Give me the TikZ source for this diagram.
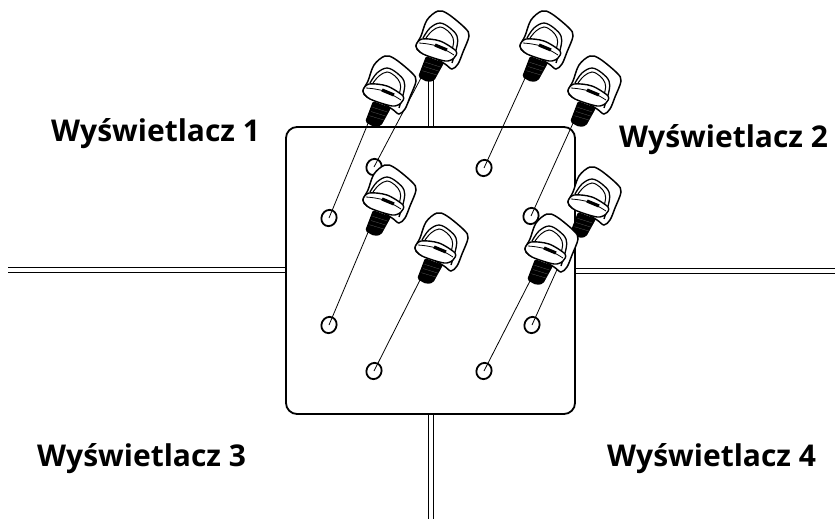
\documentclass[tikz,border=0pt]{standalone}
\usepackage{fontspec}
\setmainfont{Open Sans}
\usetikzlibrary{calc, shapes.geometric}

\tikzset{
	edge/.style = {line width = 1pt, black},
	guide/.style = {line width = 0.8pt, black},
	hole/.style = {line width = 1.8pt, black},
	label/.style = {anchor = base west, inner sep = 0pt, font = \fontsize{30}{30}\selectfont\bfseries},
	pics/thumbscrew/.style = {code = {
		%shaft
		\fill [black, rounded corners = 2pt] (-8,-5) -- (1,0) -- (8,-1) -- (18,-19) -- (0,-26) -- cycle;
		\foreach \t in {0.25, 0.5, 0.75}
			\draw [black!60, line width = 0.25pt] ($(-5,-7)!\t!(1,-24)$) -- ($(9,-3)!\t!(16,-19)$);
		%wing
		\draw [line width = 1.5pt, fill = white] plot [smooth cycle, tension = 0.55] coordinates {(-10,-36) (-5,-46) (1,-62) (12,-71) (22,-68) (39,-54) (43,-46) (37,-30) (32,-18) (26,-13) (19,-18) (5,-26) (-6,-30)};
		\draw [line width = 1.3pt] plot [smooth, tension = 0.6] coordinates {(-3,-44) (4,-54) (14,-59) (24,-54) (31,-46) (31,-36) (26,-19)};
		\draw [line width = 1pt] plot [smooth, tension = 0.6] coordinates {(0,-44) (6,-51) (14,-55) (22,-51) (27,-44) (27,-36) (22,-21)};
		%head
		\draw [line width = 1.4pt, fill = white] plot [smooth cycle, tension = 0.5] coordinates {(-10,-36) (-4,-43) (14,-41) (30,-31) (28,-24) (19,-21) (-3,-28)};
		\draw [line width = 0.8pt] plot [smooth, tension = 0.5] coordinates {(-7,-39) (2,-38) (14,-35) (28,-27)};
		\draw [line width = 3.2pt] (9,-37) -- (21,-32);
	}}
}

\begin{document}
\begin{tikzpicture}[x = 1pt, y = -1pt]
	\useasboundingbox (0,0) rectangle (835,519);

	%posts
	\draw [edge] (8,267) -- (286,267) (8,272) -- (286,272);
	\draw [edge] (575,268) -- (835,268) (575,273) -- (835,273);
	\draw [edge] (428,60) -- (428,127) (433,60) -- (433,127);
	\draw [edge] (428,414) -- (428,519) (433,414) -- (433,519);

	%plate
	\draw [line width = 1.8pt, fill = white, rounded corners = 11pt] (286,127) rectangle (575,414);

	%holes, guide lines and screws: name / hole / screw
	\foreach \n/\hx/\hy/\sx/\sy in {a/374/167/426/82, c/484/168/530/82, d/531/216/578/127, b/329/218/373/127, e/329/325/373/236, g/532/325/578/238, f/374/371/425/284, h/484/371/535/285}
	{
		\coordinate (hole\n) at (\hx,\hy);
		\coordinate (tip\n) at (\sx,\sy);
		\draw [guide] (hole\n) -- ($(tip\n)+(-4,-6)$);
		\node [draw, hole, ellipse, inner sep = 0pt, minimum width = 15pt, minimum height = 16.5pt, rotate = -25] (ring\n) at (hole\n) {};
		\pic at (tip\n) {thumbscrew};
	}

	%labels
	\node [label] (display1) at (51,141) {Wyświetlacz 1};
	\node [label] (display2) at (619,147) {Wyświetlacz 2};
	\node [label] (display3) at (37,466) {Wyświetlacz 3};
	\node [label] (display4) at (607,466) {Wyświetlacz 4};
\end{tikzpicture}
\end{document}
